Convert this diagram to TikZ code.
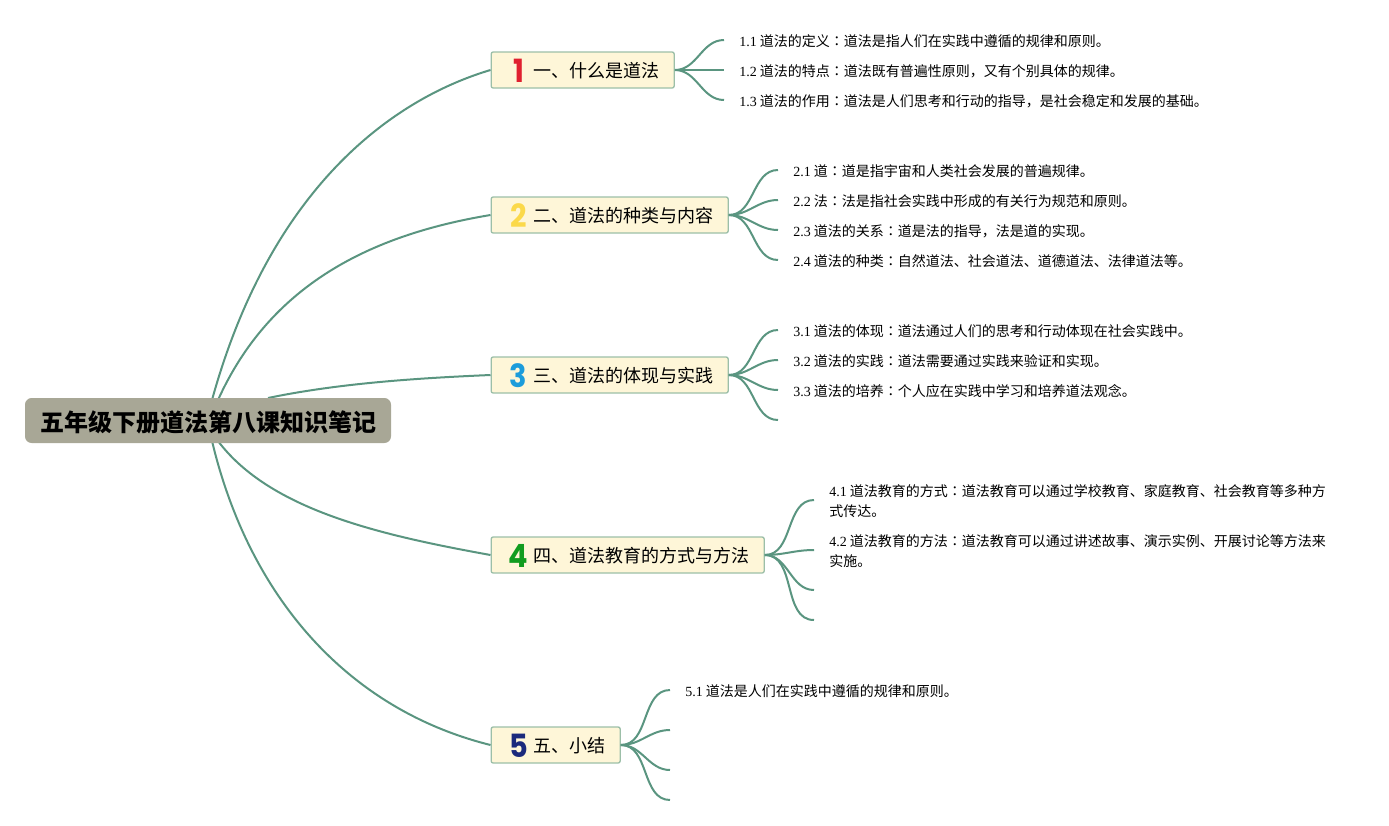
\documentclass[tikz,border=0pt]{standalone}
\usepackage{fontspec}
\setmainfont{Noto Sans CJK SC}
\newfontfamily\latinfont{Liberation Serif}
\newfontfamily\digitfont{Poppins}
\newfontfamily\colonfont{Noto Sans CJK TC}
\definecolor{twiggreen}{RGB}{90,149,128}
\definecolor{boxedge}{RGB}{156,191,168}
\definecolor{boxfill}{RGB}{254,246,216}
\definecolor{rootfill}{RGB}{168,167,150}
\definecolor{numred}{RGB}{224,32,47}
\definecolor{numyellow}{RGB}{251,217,74}
\definecolor{numblue}{RGB}{28,156,219}
\definecolor{numgreen}{RGB}{17,156,31}
\definecolor{numnavy}{RGB}{27,42,124}
\newcommand{\leafno}[1]{{\latinfont #1} }
\newcommand{\leafcolon}{{\colonfont ：}}
\newcommand{\topicno}[2]{\makebox[20.25pt][c]{\hspace{-1.5pt}\raisebox{-3.15pt}[0pt][0pt]{\scalebox{0.9}[1]{\fontsize{24}{24}\digitfont\bfseries\textcolor{#1}{#2}}}}}
\usetikzlibrary{positioning}

\begin{document}
\begin{tikzpicture}[
    x=0.75pt, y=-0.75pt,
    root/.style={fill=rootfill, rounded corners=5pt, minimum height=33.75pt, inner xsep=11.25pt, inner ysep=0pt, text height=15.9pt, text depth=0pt, font=\fontsize{18}{18}\selectfont\bfseries},
    topic/.style={draw=boxedge, line width=1pt, fill=boxfill, rounded corners=1.5pt, minimum height=27pt, inner xsep=11.25pt, inner ysep=0pt, text height=11.7pt, text depth=0pt, anchor=west, font=\fontsize{13.5}{16}\selectfont},
    leaf/.style={anchor=west, inner xsep=11.25pt, inner ysep=0pt, align=left, font=\fontsize{10.5}{15}\selectfont},
    limb/.style={draw=twiggreen, line width=1.5pt},
    twig/.style={draw=twiggreen, line width=1.5pt}
]
    \useasboundingbox (0,0) rectangle (1389,825);

    \coordinate (hubA) at (212,400);
    \coordinate (hubB) at (218,400);
    \coordinate (hubC) at (268,398);
    \coordinate (hubD) at (218,441);
    \coordinate (hubE) at (212,441);

    \node[topic] (one) at (490.5,70) {\topicno{numred}{1}一、什么是道法};
    \node[topic] (two) at (490.5,215) {\topicno{numyellow}{2}二、道法的种类与内容};
    \node[topic] (three) at (490.5,375) {\topicno{numblue}{3}三、道法的体现与实践};
    \node[topic] (four) at (490.5,555) {\topicno{numgreen}{4}四、道法教育的方式与方法};
    \node[topic] (five) at (490.5,745) {\topicno{numnavy}{5}五、小结};

    \draw[limb] (hubA) .. controls (270,190) and (390,100) .. (one.west);
    \draw[limb] (hubB) .. controls (270,285) and (370,235) .. (two.west);
    \draw[limb] (hubC) .. controls (340,383) and (420,378) .. (three.west);
    \draw[limb] (hubD) .. controls (270,510) and (380,535) .. (four.west);
    \draw[limb] (hubE) .. controls (250,600) and (350,710) .. (five.west);

    \node[root] (title) at (208,420.5) {五年级下册道法第八课知识笔记};

    \node[leaf, yshift=-0.75pt] (oneA) at (724,40) {\leafno{1.1}道法的定义\leafcolon 道法是指人们在实践中遵循的规律和原则。};
    \node[leaf, yshift=-0.75pt] (oneB) at (724,70) {\leafno{1.2}道法的特点\leafcolon 道法既有普遍性原则，又有个别具体的规律。};
    \node[leaf, yshift=-0.75pt] (oneC) at (724,100) {\leafno{1.3}道法的作用\leafcolon 道法是人们思考和行动的指导，是社会稳定和发展的基础。};

    \node[leaf, yshift=-0.75pt] (twoA) at (778,170) {\leafno{2.1}道\leafcolon 道是指宇宙和人类社会发展的普遍规律。};
    \node[leaf, yshift=-0.75pt] (twoB) at (778,200) {\leafno{2.2}法\leafcolon 法是指社会实践中形成的有关行为规范和原则。};
    \node[leaf, yshift=-0.75pt] (twoC) at (778,230) {\leafno{2.3}道法的关系\leafcolon 道是法的指导，法是道的实现。};
    \node[leaf, yshift=-0.75pt] (twoD) at (778,260) {\leafno{2.4}道法的种类\leafcolon 自然道法、社会道法、道德道法、法律道法等。};

    \node[leaf, yshift=-0.75pt] (threeA) at (778,330) {\leafno{3.1}道法的体现\leafcolon 道法通过人们的思考和行动体现在社会实践中。};
    \node[leaf, yshift=-0.75pt] (threeB) at (778,360) {\leafno{3.2}道法的实践\leafcolon 道法需要通过实践来验证和实现。};
    \node[leaf, yshift=-0.75pt] (threeC) at (778,390) {\leafno{3.3}道法的培养\leafcolon 个人应在实践中学习和培养道法观念。};
    \coordinate (threeD) at (778,420);

    \node[leaf, yshift=-0.75pt] (fourA) at (814,500) {\leafno{4.1}道法教育的方式\leafcolon 道法教育可以通过学校教育、家庭教育、社会教育等多种方\\式传达。};
    \node[leaf, yshift=-0.75pt] (fourB) at (814,550) {\leafno{4.2}道法教育的方法\leafcolon 道法教育可以通过讲述故事、演示实例、开展讨论等方法来\\实施。};
    \coordinate (fourC) at (814,590);
    \coordinate (fourD) at (814,620);

    \node[leaf, yshift=-0.75pt] (fiveA) at (670,690) {\leafno{5.1}道法是人们在实践中遵循的规律和原则。};
    \coordinate (fiveB) at (670,730);
    \coordinate (fiveC) at (670,770);
    \coordinate (fiveD) at (670,800);

    \foreach \leafname in {oneA,oneB,oneC}
        \draw[twig] (one.east) to[out=0, in=180] ([yshift=0.75pt]\leafname.west);
    \foreach \leafname in {twoA,twoB,twoC,twoD}
        \draw[twig] (two.east) to[out=0, in=180] ([yshift=0.75pt]\leafname.west);
    \foreach \leafname in {threeA,threeB,threeC}
        \draw[twig] (three.east) to[out=0, in=180] ([yshift=0.75pt]\leafname.west);
    \draw[twig] (three.east) to[out=0, in=180] (threeD);
    \foreach \leafname in {fourA,fourB}
        \draw[twig] (four.east) to[out=0, in=180] ([yshift=0.75pt]\leafname.west);
    \foreach \leafname in {fourC,fourD}
        \draw[twig] (four.east) to[out=0, in=180] (\leafname);
    \draw[twig] (five.east) to[out=0, in=180] ([yshift=0.75pt]fiveA.west);
    \foreach \leafname in {fiveB,fiveC,fiveD}
        \draw[twig] (five.east) to[out=0, in=180] (\leafname);
\end{tikzpicture}
\end{document}
